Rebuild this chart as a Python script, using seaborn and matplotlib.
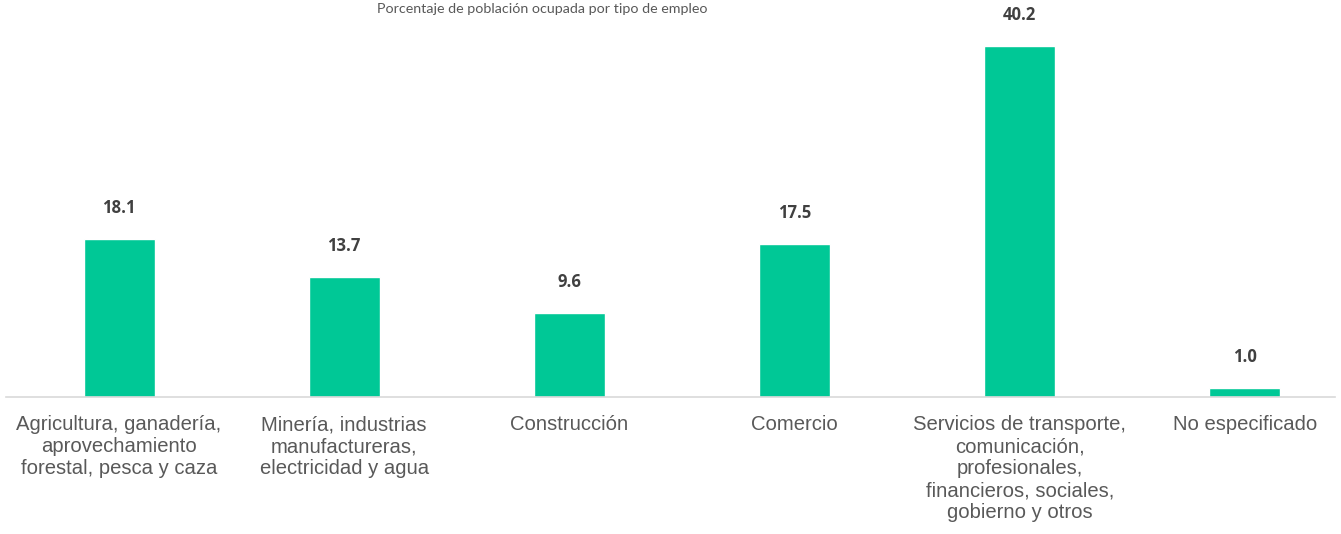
import matplotlib
matplotlib.use("Agg")
import matplotlib.pyplot as plt
import seaborn as sns
import pandas as pd

categorias = [
    "Agricultura, ganadería,\naprovechamiento\nforestal, pesca y caza",
    "Minería, industrias\nmanufactureras,\nelectricidad y agua",
    "Construcción",
    "Comercio",
    "Servicios de transporte,\ncomunicación,\nprofesionales,\nfinancieros, sociales,\ngobierno y otros",
    "No especificado",
]
porcentajes = [18.1, 13.7, 9.6, 17.5, 40.2, 1.0]
titulo = "Porcentaje de población ocupada por tipo de empleo"

sns.set_style("white")
plt.rcParams['font.family'] = ['Liberation Sans', 'DejaVu Sans']

df = pd.DataFrame({"cat": categorias, "val": porcentajes})

fig = plt.figure(figsize=(13.41, 5.34), dpi=100)
ax = fig.add_axes([6 / 1341, 137 / 534, 1329 / 1341, 397 / 534])
sns.barplot(data=df, x="cat", y="val", color="#00C896", width=0.315,
            saturation=1, ax=ax)

ax.set_xlim(-0.502, 5.40)
ax.set_ylim(0, 45.5)
for i, v in enumerate(porcentajes):
    ax.text(i, v + 3.6, f"{v:.1f}", ha="center", va="center",
            fontsize=12, fontweight="bold", color="#404040", family=["Open Sans", "DejaVu Sans"])

ax.set_xlabel("")
ax.set_ylabel("")
ax.set_yticks([])
ax.tick_params(axis="x", length=0, pad=13, labelsize=14.6, labelcolor="#595959")
for lbl in ax.get_xticklabels():
    lbl.set_linespacing(1.2)
for s in ["top", "right", "left"]:
    ax.spines[s].set_visible(False)
ax.spines["bottom"].set_color("#D9D9D9")
ax.spines["bottom"].set_linewidth(1.2)

fig.text(542 / 1341, 1 - 9 / 534, titulo, ha="center", va="center",
         fontsize=10.3, color="#595959", family=["Lato", "DejaVu Sans"])

fig.savefig("out.png", dpi=100)
